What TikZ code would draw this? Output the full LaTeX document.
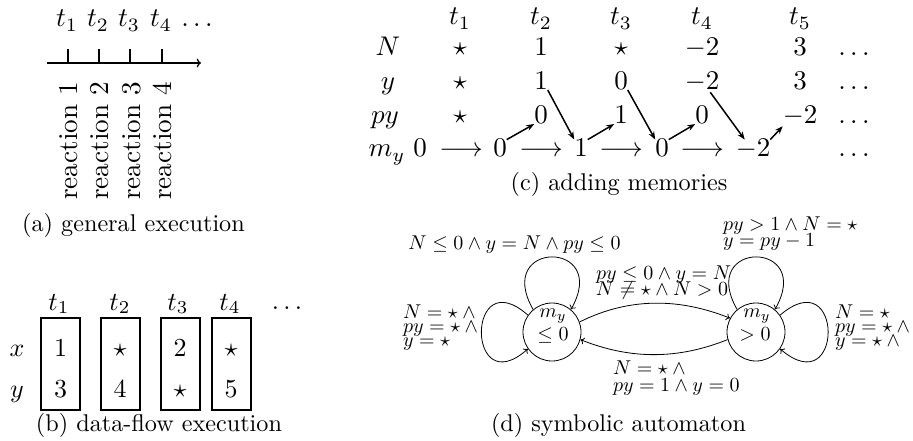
\documentclass[tikz,border=0pt]{standalone}
\usetikzlibrary{arrows.meta}
\begin{document}
\begin{tikzpicture}[x=1pt,y=-1pt,
  txt/.style={inner sep=0pt, outer sep=0pt, transform shape, anchor=base},
  captxt/.style={txt, scale=2.42},
  ta/.style={txt, scale=2.7},
  rottxt/.style={txt, scale=2.72, rotate=90, anchor=base east},
  tb/.style={txt, scale=2.6},
  tc/.style={txt, scale=2.7},
  td/.style={txt, scale=2.0},
  tdl/.style={td, anchor=base west},
  tdr/.style={td, anchor=base east},
  slotbox/.style={draw, line width=2pt, minimum width=39pt, minimum height=92pt, inner sep=0pt},
  statenode/.style={draw, circle, line width=0.8pt, minimum size=58pt, inner sep=0pt},
  memarrow/.style={line width=1.5pt, -{Stealth[length=8pt,width=6pt]}},
  trans/.style={line width=0.8pt, -{To[length=4pt,width=7pt]}},
  tickline/.style={line width=1.8pt}
]
\useasboundingbox (0,0) rectangle (913,441);

% ---------- (a) general execution ----------
\node[ta] (at1) at (67,27) {$t_1$};
\node[ta] (at2) at (98,27) {$t_2$};
\node[ta] (at3) at (129,27) {$t_3$};
\node[ta] (at4) at (161,27) {$t_4$};
\node[ta] (adots) at (197,27) {$\ldots$};
\coordinate (a0) at (47,63);
\coordinate (a1) at (201,63);
\draw[line width=1.2pt, ->] (a0) -- (a1);
\foreach \x/\n in {68/1,99/2,130/3,162/4}{
  \coordinate (tk\n) at (\x,63);
  \coordinate (tt\n) at (\x,49);
  \draw[tickline] (tk\n) -- (tt\n);
}
\node[rottxt] (r1) at (77.5,82) {reaction 1};
\node[rottxt] (r2) at (108.5,82) {reaction 2};
\node[rottxt] (r3) at (140,82) {reaction 3};
\node[rottxt] (r4) at (171.5,82) {reaction 4};
\node[captxt] (capa) at (133.5,231) {(a) general execution};

% ---------- (b) data-flow execution ----------
\node[tb] (bt1) at (59,310) {$t_1$};
\node[tb] (bt2) at (120,310) {$t_2$};
\node[tb] (bt3) at (178,310) {$t_3$};
\node[tb] (bt4) at (230,310) {$t_4$};
\node[tb] (bdots) at (287,309) {$\ldots$};
\node[slotbox] (b1) at (60.5,364) {};
\node[slotbox] (b2) at (120,364) {};
\node[slotbox] (b3) at (180,364) {};
\node[slotbox] (b4) at (231,364) {};
\node[tb] (bx) at (17,356) {$x$};
\node[tb] (by) at (17,397) {$y$};
\node[tb] (bx1) at (60.5,356) {$1$};
\node[tb] (by1) at (60.5,397) {$3$};
\node[tb] (bx2) at (120,356) {$\star$};
\node[tb] (by2) at (120,397) {$4$};
\node[tb] (bx3) at (180,356) {$2$};
\node[tb] (by3) at (180,397) {$\star$};
\node[tb] (bx4) at (231,356) {$\star$};
\node[tb] (by4) at (231,397) {$5$};
\node[captxt] (capb) at (159,431) {(b) data-flow execution};

% ---------- (c) adding memories ----------
\node[tc] (ct1) at (460,25) {$t_1$};
\node[tc] (ct2) at (541,25) {$t_2$};
\node[tc] (ct3) at (621,25) {$t_3$};
\node[tc] (ct4) at (702,25) {$t_4$};
\node[tc] (ct5) at (800,25) {$t_5$};
\node[tc] (cN) at (388,56) {$N$};
\node[tc] (cy) at (388,90) {$y$};
\node[tc] (cp) at (385,124) {$py$};
\node[tc] (cm) at (387,157) {$m_y$};
% N row
\node[tc] (cN1) at (460,56) {$\star$};
\node[tc] (cN2) at (541,56) {$1$};
\node[tc] (cN3) at (621,56) {$\star$};
\node[tc] (cN4) at (702,56) {$-2$};
\node[tc] (cN5) at (800,56) {$3$};
\node[tc] (cNd) at (854,56) {$\ldots$};
% y row
\node[tc] (cy1) at (460,90) {$\star$};
\node[tc] (cy2) at (541,90) {$1$};
\node[tc] (cy3) at (621,90) {$0$};
\node[tc] (cy4) at (702,90) {$-2$};
\node[tc] (cy5) at (800,90) {$3$};
\node[tc] (cyd) at (854,90) {$\ldots$};
% py row
\node[tc] (cp1) at (460,124) {$\star$};
\node[tc] (cp2) at (541,124) {$0$};
\node[tc] (cp3) at (621,124) {$1$};
\node[tc] (cp4) at (702,124) {$0$};
\node[tc] (cp5) at (800,124) {$-2$};
\node[tc] (cpd) at (854,124) {$\ldots$};
% m_y row
\node[tc] (cm0) at (420,157) {$0$};
\node[tc] (ca1) at (461,157) {$\longrightarrow$};
\node[tc] (cm1) at (500,157) {$0$};
\node[tc] (ca2) at (541,157) {$\longrightarrow$};
\node[tc] (cm2) at (581,157) {$1$};
\node[tc] (ca3) at (621,157) {$\longrightarrow$};
\node[tc] (cm3) at (662,157) {$0$};
\node[tc] (ca4) at (702,157) {$\longrightarrow$};
\node[tc] (cm4) at (753,157) {$-2$};
\node[tc] (cmd) at (854,157) {$\ldots$};
% memory arrows
\draw[memarrow] (cm1.north east) -- (cp2.south west);
\draw[memarrow] (cy2.south east) -- (cm2.north west);
\draw[memarrow] (cm2.north east) -- (cp3.south west);
\draw[memarrow] (cy3.south east) -- (cm3.north west);
\draw[memarrow] (cm3.north east) -- (cp4.south west);
\draw[memarrow] ([xshift=-9pt]cy4.south east) -- ([xshift=9pt]cm4.north west);
\draw[memarrow] (cm4.north east) -- (cp5.south west);
\node[captxt] (capc) at (619,190) {(c) adding memories};

% ---------- (d) symbolic automaton ----------
\node[statenode] (L) at (552,332) {};
\node[statenode] (R) at (756,332) {};
\node[td] (Lm) at (553,317) {$m_y$};
\node[td] (Lv) at (553,340) {$\leq 0$};
\node[td] (Rm) at (757,317) {$m_y$};
\node[td] (Rv) at (755,340) {$> 0$};
\draw[trans] (L.130) .. controls +(-40,-70) and +(40,-70) .. (L.50);
\draw[trans] (R.130) .. controls +(-40,-70) and +(40,-70) .. (R.50);
\draw[trans] (L.145) .. controls +(-62,-55) and +(-62,55) .. (L.215);
\draw[trans] (R.35) .. controls +(64,-55) and +(64,55) .. (R.-35);
\draw[trans] (L.20) .. controls +(50,-25) and +(-50,-20) .. (R.152);
\draw[trans] (R.195) .. controls +(-50,20) and +(50,20) .. (L.-15);
\node[td] (lt) at (514.5,249) {$N \leq 0 \wedge y = N \wedge py \leq 0$};
\node[tdl] (rt1) at (723,230) {$py > 1 \wedge N = \star$};
\node[tdl] (rt2) at (723,246) {$y = py - 1$};
\node[tdr] (u1) at (731,279) {$py \leq 0 \wedge y = N$};
\node[tdr] (u2) at (728,295) {$N \neq \star \wedge N > 0$};
\node[tdl] (ll1) at (403,318) {$N = \star \wedge{}$};
\node[tdl] (ll2) at (403,332) {$py = \star \wedge{}$};
\node[tdl] (ll3) at (403,346) {$y = \star$};
\node[tdl] (rl1) at (835,318) {$N = \star$};
\node[tdl] (rl2) at (835,332) {$py = \star \wedge{}$};
\node[tdl] (rl3) at (835,346) {$y = \star \wedge{}$};
\node[tdl] (bl1) at (613,374) {$N = \star \wedge{}$};
\node[tdl] (bl2) at (613,391) {$py = 1 \wedge y = 0$};
\node[captxt] (capd) at (618.5,431) {(d) symbolic automaton};
\end{tikzpicture}
\end{document}
